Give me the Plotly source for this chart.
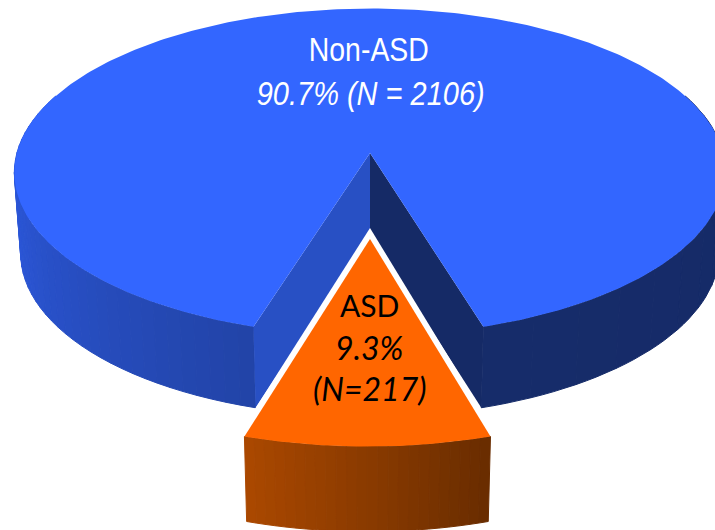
import numpy as np
import plotly.graph_objects as go

# Data
categories = ["Non-ASD", "ASD"]
counts = [2106, 217]
percent_labels = ["90.7% (N = 2106)", "9.3%"]
count_labels = ["", "(N=217)"]

# Colours
TOP_BLUE = "#3366FF"
TOP_ORANGE = "#FF6600"
RIM_LEFT = [(48, 96, 240), (34, 68, 168)]
RIM_RIGHT = [(22, 44, 106), (21, 42, 102)]
RIM_ORANGE = [(170, 72, 0), (106, 45, 0)]
FACE_LEFT = "#2850C4"
FACE_RIGHT = "#152A66"

# Projection of the pie disc on to the page (pixels)
CX, CY, A, B, K = 370.0, 153.0, 353.1, 161.3, 0.1163
X_SHRINK, DEPTH_MAIN, DEPTH_SLICE = 0.982, 81.0, 85.0
EXPLODE, GAP, SKEW = 0.502, 11.0, 0.009

half = np.pi * counts[1] / sum(counts)


def project(theta, shift=0.0):
    u, v = np.sin(theta), np.cos(theta) + shift
    d = 1 - K * v
    return A * u / d, B * v / d


def top(theta, shift=0.0):
    x, y = project(theta, shift)
    return CX + x - SKEW * y, CY + y


def bottom(theta, depth, shift=0.0):
    x, y = project(theta, shift)
    return CX + x * X_SHRINK - SKEW * y, CY + y + depth


def hexmix(c, t):
    return "rgb(%d,%d,%d)" % tuple(round(a + (b - a) * t) for a, b in zip(c[0], c[1]))


fig = go.Figure()


def poly(x, y, color, seam=False):
    fig.add_trace(go.Scatter(
        x=list(x) + [x[0]], y=list(y) + [y[0]], mode="lines", fill="toself",
        fillcolor=color, line=dict(color=color, width=1 if seam else 0),
        hoverinfo="skip", showlegend=False))


def rim(t0, t1, n, palette, depth, shift=0.0):
    edges = np.linspace(t0, t1, n + 1)
    for i in range(n):
        ts = np.linspace(edges[i], edges[i + 1], 5)
        xt, yt = top(ts, shift)
        xb, yb = bottom(ts[::-1], depth, shift)
        poly(np.r_[xt, xb], np.r_[yt, yb], hexmix(palette, i / max(n - 1, 1)), seam=True)


# Rim of the large slice
rim(-np.pi * 0.62, -half, 40, RIM_LEFT, DEPTH_MAIN)
rim(half, np.pi * 0.62, 12, RIM_RIGHT, DEPTH_MAIN)

# Inner cut faces
xr, yr = top(half)
xl, yl = top(-half)
xrb, yrb = bottom(half, DEPTH_MAIN)
xlb, ylb = bottom(-half, DEPTH_MAIN)
poly([CX, CX, xlb, xl], [CY, CY + DEPTH_MAIN, ylb, yl], FACE_LEFT)
poly([CX, CX, xrb, xr], [CY, CY + DEPTH_MAIN, yrb, yr], FACE_RIGHT)

# Top of the large slice
ts = np.linspace(half, 2 * np.pi - half, 400)
xt, yt = top(ts)
poly(np.r_[CX, xt], np.r_[CY, yt], TOP_BLUE)

# Exploded slice: rim, white gap, top
rim(-half, half, 24, RIM_ORANGE, DEPTH_SLICE, EXPLODE)
ts = np.linspace(-half, half, 60)
xo, yo = top(ts, EXPLODE)
ay = B * EXPLODE / (1 - K * EXPLODE)
ax, ay = CX, CY + ay
poly(np.r_[ax, xo], np.r_[ay, yo] - GAP, "#FFFFFF")
poly(np.r_[ax, xo], np.r_[ay, yo], TOP_ORANGE)

# Texts
labels = [
    (369, 49, categories[0], "normal", "white", "Liberation Sans", 34),
    (370, 93, percent_labels[0], "italic", "white", "Liberation Sans", 34),
    (369, 305, categories[1], "normal", "black", "Lato", 30),
    (369, 347, percent_labels[1], "italic", "black", "Lato", 32),
    (370, 388, count_labels[1], "italic", "black", "Lato", 32),
]
for x, y, text, style, color, family, size in labels:
    fig.add_annotation(x=x, y=y, text=text, showarrow=False, xanchor="center", yanchor="middle",
                       font=dict(family=family, size=size, color=color, style=style))

fig.update_layout(
    width=715, height=530, margin=dict(l=0, r=0, t=0, b=0),
    paper_bgcolor="white", plot_bgcolor="white", showlegend=False,
    xaxis=dict(range=[0, 715], visible=False, fixedrange=True),
    yaxis=dict(range=[530, 0], visible=False, fixedrange=True),
)

# The two upper labels are set in a condensed face in the reference: fit their widths.
squeeze = """
document.body.style.margin = '0';
var fit = {'Non-ASD': 120, '90.7% (N = 2106)': 228};
function squeeze() {
  document.querySelectorAll('.annotation-text').forEach(function (t) {
    var w = fit[t.textContent];
    if (w) { t.setAttribute('textLength', w); t.setAttribute('lengthAdjust', 'spacingAndGlyphs'); }
  });
}
squeeze(); setTimeout(squeeze, 0); setTimeout(squeeze, 100);
"""
fig.write_html("out.html", config={"displayModeBar": False}, post_script=squeeze)
